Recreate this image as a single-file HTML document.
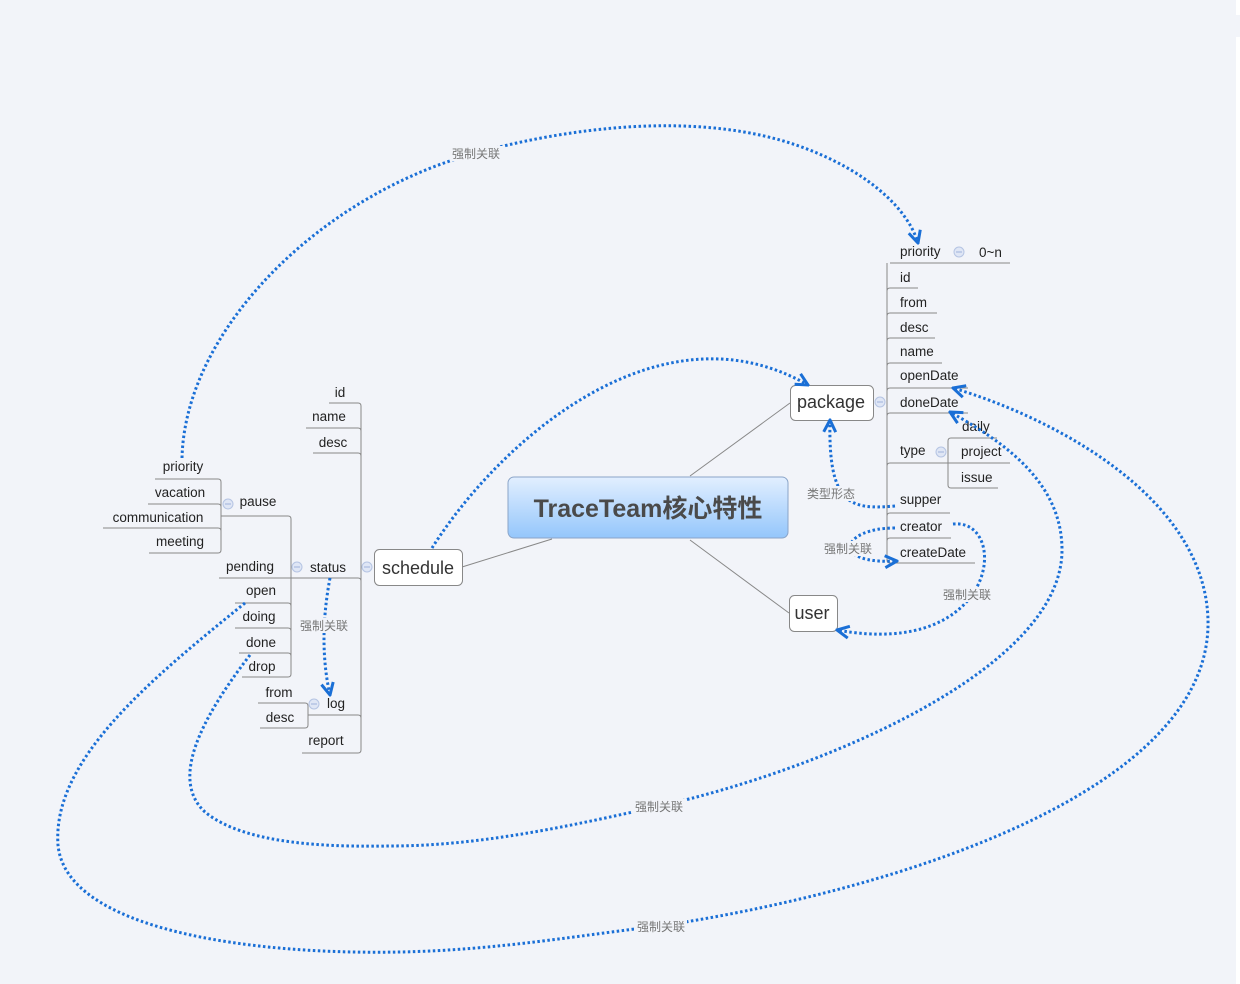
<!DOCTYPE html>
<html><head><meta charset="utf-8"><style>
html,body{margin:0;padding:0;background:#f2f4f9;}
svg{display:block;}
text{font-family:"Liberation Sans","Noto Sans CJK SC",sans-serif;}
.t{font-size:13.5px;fill:#222;}
.l{font-size:12px;fill:#777;}
.br{fill:none;stroke:#888;stroke-width:1;}
.d{fill:none;stroke:#1a6fd6;stroke-width:3;stroke-dasharray:2.5,2.5;}
.c{fill:#dfe6f5;stroke:#b5c4e3;stroke-width:1;}
.m{stroke:#9fb3dc;stroke-width:1;}
</style></head><body>
<svg width="1240" height="984" viewBox="0 0 1240 984" xmlns="http://www.w3.org/2000/svg">
<defs>
<linearGradient id="g" x1="0" y1="0" x2="0" y2="1"><stop offset="0" stop-color="#e2efff"/><stop offset="1" stop-color="#94c6fb"/></linearGradient>
<marker id="a" viewBox="0 0 10 10" refX="9" refY="5" markerWidth="5" markerHeight="5" orient="auto" markerUnits="strokeWidth"><path d="M1,1 L9,5 L1,9" fill="none" stroke="#1a6fd6" stroke-width="2"/></marker>
</defs>
<rect x="1236" y="0" width="4" height="984" fill="#fff"/>
<rect x="1232" y="15" width="8" height="22" fill="#f2f4f9"/>

<path d="M690,476 L790,403 M552,539 L462,567 M690,540 L789,613" stroke="#888" stroke-width="1" fill="none"/>

<rect x="508" y="477" width="280" height="61" rx="6" fill="url(#g)" stroke="#8aa4c8"/>
<text x="648" y="517" text-anchor="middle" font-size="25" font-weight="bold" fill="#4a4a4a">TraceTeam核心特性</text>

<rect x="790.5" y="385.5" width="83" height="35" rx="5" fill="#fff" stroke="#888"/>
<text x="831" y="408" text-anchor="middle" font-size="18" fill="#333">package</text>
<rect x="374.5" y="549.5" width="88" height="36" rx="5" fill="#fff" stroke="#888"/>
<text x="418" y="574" text-anchor="middle" font-size="18" fill="#333">schedule</text>
<rect x="789.5" y="595.5" width="48" height="36" rx="5" fill="#fff" stroke="#888"/>
<text x="812" y="619" text-anchor="middle" font-size="18" fill="#333">user</text>

<!-- right tree -->
<path class="br" d="M887,263 L887,560 Q887,563 890,563 L975,563"/>
<path class="br" d="M890,263 L1010,263"/>
<path class="br" d="M887,291 Q887,288 890,288 L918,288 M887,316 Q887,313 890,313 L937,313 M887,341 Q887,338 890,338 L935,338 M887,366 Q887,363 890,363 L942,363 M887,391 Q887,388 890,388 L968,388 M887,416 Q887,413 890,413 L968,413 M887,466 Q887,463 890,463 L1010,463 M887,516 Q887,513 890,513 L950,513 M887,541 Q887,538 890,538 L951,538"/>
<path class="br" d="M997,438 L951,438 Q948,438 948,441 L948,485 Q948,488 951,488 L998,488"/>
<g>
<circle class="c" cx="880" cy="402" r="5"/><path class="m" d="M877,402 H883"/>
<circle class="c" cx="959" cy="252" r="5"/><path class="m" d="M956,252 H962"/>
<circle class="c" cx="941" cy="452" r="5"/><path class="m" d="M938,452 H944"/>
</g>
<g class="t">
<text x="900" y="256">priority</text><text x="979" y="257">0~n</text>
<text x="900" y="282">id</text><text x="900" y="307">from</text><text x="900" y="332">desc</text>
<text x="900" y="356">name</text><text x="900" y="380">openDate</text><text x="900" y="407">doneDate</text>
<text x="900" y="455">type</text><text x="962" y="431">daily</text><text x="961" y="456">project</text><text x="961" y="482">issue</text>
<text x="900" y="504">supper</text><text x="900" y="531">creator</text><text x="900" y="557">createDate</text>
</g>

<!-- left tree -->
<path class="br" d="M361,406 L361,750 Q361,753 358,753 L302,753"/>
<path class="br" d="M329,403 L358,403 Q361,403 361,406 M306,428 L358,428 Q361,428 361,431 M313,453 L358,453 Q361,453 361,456 M219,578 L358,578 Q361,578 361,581 M308,715 L358,715 Q361,715 361,718"/>
<path class="br" d="M221,516 L288,516 Q291,516 291,519 L291,674 Q291,677 288,677 L242,677 M235,603 L288,603 Q291,603 291,606 M235,628 L288,628 Q291,628 291,631 M239,653 L288,653 Q291,653 291,656"/>
<path class="br" d="M155,479 L218,479 Q221,479 221,482 L221,550 Q221,553 218,553 L149,553 M148,504 L218,504 Q221,504 221,507 M103,528 L218,528 Q221,528 221,531"/>
<path class="br" d="M258,703 L305,703 Q308,703 308,706 L308,725 Q308,728 305,728 L260,728"/>
<g>
<circle class="c" cx="367" cy="567" r="5"/><path class="m" d="M364,567 H370"/>
<circle class="c" cx="297" cy="567" r="5"/><path class="m" d="M294,567 H300"/>
<circle class="c" cx="228" cy="504" r="5"/><path class="m" d="M225,504 H231"/>
<circle class="c" cx="314" cy="704" r="5"/><path class="m" d="M311,704 H317"/>
</g>
<g class="t" text-anchor="middle">
<text x="340" y="397">id</text><text x="329" y="421">name</text><text x="333" y="447">desc</text>
<text x="328" y="572">status</text><text x="336" y="708">log</text><text x="326" y="745">report</text>
<text x="258" y="506">pause</text><text x="250" y="571">pending</text><text x="261" y="595">open</text>
<text x="259" y="621">doing</text><text x="261" y="647">done</text><text x="262" y="671">drop</text>
<text x="183" y="471">priority</text><text x="180" y="497">vacation</text><text x="158" y="522">communication</text><text x="180" y="546">meeting</text>
<text x="279" y="697">from</text><text x="280" y="722">desc</text>
</g>

<!-- dotted relations -->
<path class="d" marker-end="url(#a)" d="M432,548 C500,440 660,300 808,385"/>
<path class="d" marker-end="url(#a)" d="M182,458 C185,330 320,195 476,153 C560,130 680,112 780,140 C850,160 905,200 918,243"/>
<path class="d" marker-end="url(#a)" d="M895,506 C850,510 828,505 830,420"/>
<path class="d" marker-end="url(#a)" d="M895,528 C840,528 830,565 897,561"/>
<path class="d" marker-end="url(#a)" d="M953,524 C1010,518 1000,660 837,630"/>
<path class="d" marker-end="url(#a)" d="M330,578 C322,620 322,660 330,695"/>
<path class="d" marker-end="url(#a)" d="M245,603 C150,680 52,760 58,845 C66,930 250,955 400,952 C500,950 580,935 660,926 C900,890 1212,790 1208,620 C1205,500 1060,420 953,388"/>
<path class="d" marker-end="url(#a)" d="M250,655 C200,720 170,780 205,812 C245,845 330,847 390,846 C480,846 570,826 660,806 C820,770 1062,670 1062,550 C1062,480 1000,440 950,412"/>

<g class="l" text-anchor="middle">
<rect x="450" y="146" width="53" height="15" fill="#f2f4f9"/><text x="476" y="158">强制关联</text>
<rect x="804" y="486" width="53" height="15" fill="#f2f4f9"/><text x="831" y="498">类型形态</text>
<rect x="821" y="541" width="53" height="15" fill="#f2f4f9"/><text x="848" y="553">强制关联</text>
<rect x="940" y="587" width="53" height="15" fill="#f2f4f9"/><text x="967" y="599">强制关联</text>
<rect x="297" y="618" width="53" height="15" fill="#f2f4f9"/><text x="324" y="630">强制关联</text>
<rect x="632" y="799" width="53" height="15" fill="#f2f4f9"/><text x="659" y="811">强制关联</text>
<rect x="634" y="919" width="53" height="15" fill="#f2f4f9"/><text x="661" y="931">强制关联</text>
</g>
</svg>
</body></html>
